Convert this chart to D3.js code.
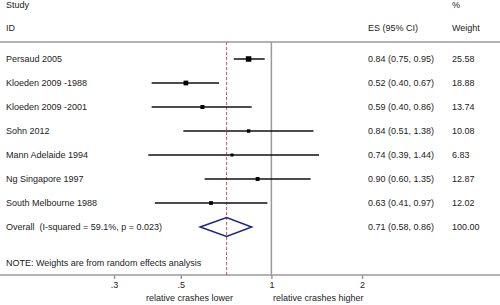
<!DOCTYPE html>
<html>
<head>
<meta charset="utf-8">
<script src="https://cdn.jsdelivr.net/npm/d3@7"></script>
<style>
  body { margin: 0; background: #fff; }
  svg { display: block; font-family: "Liberation Sans", Arial, sans-serif; }
</style>
</head>
<body>
<svg width="500" height="305"></svg>
<script>
// study rows
const studies = ["Persaud 2005", "Kloeden 2009 -1988", "Kloeden 2009 -2001", "Sohn 2012",
  "Mann Adelaide 1994", "Ng Singapore 1997", "South Melbourne 1988"];
const es = [0.84, 0.52, 0.59, 0.84, 0.74, 0.90, 0.63];
const lower = [0.75, 0.40, 0.40, 0.51, 0.39, 0.60, 0.41];
const upper = [0.95, 0.67, 0.86, 1.38, 1.44, 1.35, 0.97];
const weights = [25.58, 18.88, 13.74, 10.08, 6.83, 12.87, 12.02];

// pooled estimate
const overallLabel = "Overall  (I-squared = 59.1%, p = 0.023)";
const overallES = 0.71;
const overallLower = 0.58;
const overallUpper = 0.86;
const overallWeight = 100.00;

const tickValues = [0.3, 0.5, 1, 2];
const tickLabels = [".3", ".5", "1", "2"];

const svg = d3.select("svg");
const textColor = "#222";
const gray = "#9a9a9a";
const fontSize = "9px";

const rows = studies.concat([overallLabel]);

const x = d3.scaleLog().domain([0.3, 2]).range([114, 362]);
const y = d3.scalePoint().domain(rows).range([59, 227]);
const box = d3.scaleSqrt().domain([0, 25.58]).range([0, 5.5]);

const topLine = 42, axisY = 275;
const esX = 368, wX = 452;

// headers
const header = [
  { t: "Study", x: 6, y: 5 }, { t: "ID", x: 6, y: 28 },
  { t: "%", x: wX, y: 5 }, { t: "ES (95% CI)", x: esX, y: 28 }, { t: "Weight", x: wX, y: 28 }
];
svg.selectAll(".hdr").data(header).enter().append("text")
  .attr("x", d => d.x).attr("y", d => d.y)
  .attr("dy", "0.35em")
  .style("font-size", fontSize).attr("fill", textColor)
  .text(d => d.t);

// separator and axis lines
svg.append("line").attr("x1", 0).attr("x2", 500).attr("y1", topLine).attr("y2", topLine)
  .attr("stroke", gray).attr("stroke-width", 1.5);
svg.append("line").attr("x1", 0).attr("x2", 500).attr("y1", axisY).attr("y2", axisY)
  .attr("stroke", gray).attr("stroke-width", 1.5);

// null line at 1
svg.append("line").attr("x1", x(1)).attr("x2", x(1)).attr("y1", topLine).attr("y2", axisY)
  .attr("stroke", gray).attr("stroke-width", 1.5);

// overall dashed line
svg.append("line").attr("x1", x(overallES)).attr("x2", x(overallES))
  .attr("y1", topLine).attr("y2", axisY)
  .attr("stroke", "#d0505a").attr("stroke-width", 1).attr("stroke-dasharray", "3,2");

// CI lines
const g = svg.append("g");
studies.forEach((s, i) => {
  const cy = y(s);
  g.append("line")
    .attr("x1", x(lower[i])).attr("x2", x(upper[i]))
    .attr("y1", cy).attr("y2", cy)
    .attr("stroke", "#111").attr("stroke-width", 1.5);
  const side = Math.max(box(weights[i]), 3);
  g.append("rect")
    .attr("x", x(es[i]) - side / 2).attr("y", cy - side / 2)
    .attr("width", side).attr("height", side)
    .attr("fill", "#000");

  svg.append("text").attr("x", 6).attr("y", cy).attr("dy", "0.35em")
    .style("font-size", fontSize).attr("fill", textColor).text(s);
  svg.append("text").attr("x", esX).attr("y", cy).attr("dy", "0.35em")
    .style("font-size", fontSize).attr("fill", textColor)
    .text(`${es[i].toFixed(2)} (${lower[i].toFixed(2)}, ${upper[i].toFixed(2)})`);
  svg.append("text").attr("x", wX).attr("y", cy).attr("dy", "0.35em")
    .style("font-size", fontSize).attr("fill", textColor).text(weights[i].toFixed(2));
});

// diamond
const oy = y(overallLabel);
const dh = 9.5;
svg.append("path")
  .attr("d", `M${x(overallLower)},${oy} L${x(overallES)},${oy - dh} L${x(overallUpper)},${oy} L${x(overallES)},${oy + dh} Z`)
  .attr("fill", "none").attr("stroke", "#1c2580").attr("stroke-width", 1.5);
svg.append("text").attr("x", 6).attr("y", oy).attr("dy", "0.35em")
  .style("font-size", fontSize).attr("fill", textColor).style("white-space", "pre")
  .attr("xml:space", "preserve").text(overallLabel);
svg.append("text").attr("x", esX).attr("y", oy).attr("dy", "0.35em")
  .style("font-size", fontSize).attr("fill", textColor)
  .text(`${overallES.toFixed(2)} (${overallLower.toFixed(2)}, ${overallUpper.toFixed(2)})`);
svg.append("text").attr("x", wX).attr("y", oy).attr("dy", "0.35em")
  .style("font-size", fontSize).attr("fill", textColor).text(overallWeight.toFixed(2));

// note
svg.append("text").attr("x", 6).attr("y", 263).attr("dy", "0.35em")
  .style("font-size", fontSize).attr("fill", textColor)
  .text("NOTE: Weights are from random effects analysis");

// x axis
const axis = svg.append("g").attr("transform", `translate(0,${axisY})`)
  .call(d3.axisBottom(x).tickValues(tickValues)
    .tickFormat((d, i) => tickLabels[i]).tickSize(4).tickPadding(3));
axis.select(".domain").remove();
axis.selectAll(".tick line").attr("stroke", gray).attr("stroke-width", 1.5);
axis.selectAll(".tick text").style("font-size", fontSize).attr("fill", textColor)
  .style("font-family", "Liberation Sans, Arial, sans-serif");

svg.append("text").attr("x", 233).attr("y", 298).attr("dy", "0.35em")
  .attr("text-anchor", "end").style("font-size", fontSize).attr("fill", textColor)
  .text("relative crashes lower");
svg.append("text").attr("x", 273).attr("y", 298).attr("dy", "0.35em")
  .style("font-size", fontSize).attr("fill", textColor)
  .text("relative crashes higher");
</script>
</body>
</html>
